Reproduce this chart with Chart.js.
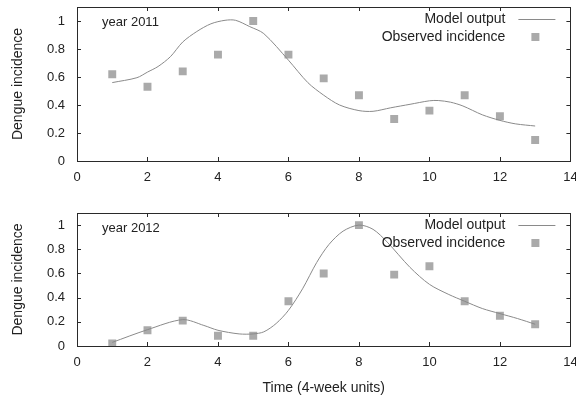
<!DOCTYPE html>
<html>
<head>
    <title>Dengue incidence</title>
    <style>
        body {
            margin: 0;
            background: #fff;
            overflow: hidden;
        }
        canvas {
            display: block;
        }
    </style>
    <script src="https://cdn.jsdelivr.net/npm/chart.js@4.4.1/dist/chart.umd.min.js"></script>
</head>
<body>
    <canvas id="chart2011" width="576" height="195"></canvas>
    <canvas id="chart2012" width="576" height="205"></canvas>

    <script>
        // observed incidence, one value per 4-week unit
        const weeks = [1, 2, 3, 4, 5, 6, 7, 8, 9, 10, 11, 12, 13];
        const obs2011 = [0.62, 0.53, 0.64, 0.76, 1.0, 0.76, 0.59, 0.47, 0.30, 0.36, 0.47, 0.32, 0.15];
        const obs2012 = [0.02, 0.13, 0.21, 0.085, 0.085, 0.37, 0.60, 1.0, 0.59, 0.66, 0.37, 0.25, 0.18];

        // model output
        const modelT2011 = [1, 1.7, 2, 2.3, 2.65, 3, 3.4, 3.8, 4.2, 4.5, 4.9, 5.3, 6, 6.55, 7, 7.45, 8, 8.4, 8.9, 9.45, 10, 10.25, 10.6, 10.95, 11.5, 12, 12.45, 13];
        const model2011 = [0.56, 0.595, 0.635, 0.675, 0.745, 0.85, 0.925, 0.98, 1.005, 1.005, 0.96, 0.91, 0.72, 0.56, 0.47, 0.40, 0.36, 0.355, 0.38, 0.405, 0.43, 0.432, 0.42, 0.393, 0.33, 0.29, 0.265, 0.25];
        const modelT2012 = [1, 2, 3, 3.6, 4, 4.6, 5, 5.3, 5.65, 6, 6.4, 6.8, 7.15, 7.55, 8, 8.4, 8.8, 9.45, 10, 10.55, 11, 11.5, 12, 12.5, 13];
        const model2012 = [0.03, 0.135, 0.218, 0.17, 0.13, 0.1, 0.1, 0.117, 0.186, 0.295, 0.473, 0.69, 0.84, 0.95, 1.0, 0.965, 0.86, 0.65, 0.51, 0.426, 0.37, 0.31, 0.268, 0.227, 0.18];

        const xTicks = [0, 2, 4, 6, 8, 10, 12, 14];
        const yTicks = [0, 0.2, 0.4, 0.6, 0.8, 1];

        const FONT = "'Liberation Sans', Arial, sans-serif";
        const TEXT = '#222';

        // gnuplot-like frame: box plus inward ticks on all four sides,
        // the year label and a legend inside the top right corner
        const framePlugin = {
            id: 'frame',
            afterDraw(chart, args, opts) {
                const ctx = chart.ctx;
                const a = chart.chartArea;
                const xs = chart.scales.x, ys = chart.scales.y;
                const tl = 4;
                ctx.save();
                ctx.strokeStyle = '#2a2a2a';
                ctx.lineWidth = 1;
                ctx.beginPath();
                xTicks.forEach(v => {
                    const px = Math.round(xs.getPixelForValue(v)) + 0.5;
                    ctx.moveTo(px, a.bottom); ctx.lineTo(px, a.bottom - tl);
                    ctx.moveTo(px, a.top); ctx.lineTo(px, a.top + tl);
                });
                yTicks.forEach(v => {
                    const py = Math.round(ys.getPixelForValue(v)) + 0.5;
                    ctx.moveTo(a.left, py); ctx.lineTo(a.left + tl, py);
                    ctx.moveTo(a.right, py); ctx.lineTo(a.right - tl, py);
                });
                ctx.stroke();
                ctx.strokeRect(Math.round(a.left) + 0.5, Math.round(a.top) + 0.5,
                    Math.round(a.right - a.left), Math.round(a.bottom - a.top));

                // year label
                ctx.fillStyle = TEXT;
                ctx.font = '13px ' + FONT;
                ctx.textBaseline = 'middle';
                ctx.textAlign = 'left';
                ctx.fillText(opts.year, a.left + 25, a.top + 15);

                // legend
                const ds = chart.data.datasets;
                ctx.font = '14px ' + FONT;
                ctx.textAlign = 'right';
                const tx = a.right - 65;
                ctx.fillText(ds[0].label, tx, a.top + 12);
                ctx.fillText(ds[1].label, tx, a.top + 30);
                ctx.strokeStyle = ds[0].borderColor;
                ctx.beginPath();
                ctx.moveTo(a.right - 52, a.top + 12.5);
                ctx.lineTo(a.right - 15, a.top + 12.5);
                ctx.stroke();
                ctx.fillStyle = ds[1].backgroundColor;
                ctx.fillRect(a.right - 39, a.top + 26, 8, 8);
                ctx.restore();
            }
        };

        function makeChart(id, year, modelT, model, obs, opts) {
            const modelPts = modelT.map((t, i) => ({ x: t, y: model[i] }));
            const obsPts = weeks.map((w, i) => ({ x: w, y: obs[i] }));
            return new Chart(document.getElementById(id), {
                type: 'scatter',
                data: {
                    datasets: [
                        {
                            label: 'Model output',
                            data: modelPts,
                            showLine: true,
                            borderColor: '#8a8a8a',
                            borderWidth: 1,
                            pointRadius: 0,
                            tension: 0.3
                        },
                        {
                            label: 'Observed incidence',
                            data: obsPts,
                            pointStyle: 'rect',
                            pointRadius: 5.6,
                            backgroundColor: '#aaaaaa',
                            borderWidth: 0
                        }
                    ]
                },
                options: {
                    responsive: false,
                    animation: false,
                    layout: { padding: { top: opts.top, right: 5, left: 0, bottom: 0 } },
                    plugins: {
                        legend: { display: false },
                        tooltip: { enabled: false },
                        frame: { year: year }
                    },
                    scales: {
                        x: {
                            type: 'linear',
                            min: 0,
                            max: 14,
                            grid: { display: false, drawTicks: false },
                            border: { display: false },
                            ticks: {
                                stepSize: 2,
                                padding: 9,
                                color: TEXT,
                                font: { family: FONT, size: 13 }
                            },
                            title: {
                                display: opts.xTitle,
                                text: 'Time (4-week units)',
                                color: TEXT,
                                font: { family: FONT, size: 14 },
                                padding: { top: 0, bottom: 3 }
                            },
                            afterFit(s) {
                                s.height = opts.xHeight;
                                s.paddingLeft = 0;
                                s.paddingRight = 0;
                            }
                        },
                        y: {
                            min: 0,
                            max: 1.1,
                            grid: { display: false, drawTicks: false },
                            border: { display: false },
                            afterBuildTicks(s) {
                                s.ticks = yTicks.map(v => ({ value: v }));
                            },
                            ticks: {
                                padding: 12,
                                color: TEXT,
                                font: { family: FONT, size: 13 },
                                callback: v => String(v)
                            },
                            title: {
                                display: true,
                                text: 'Dengue incidence',
                                color: TEXT,
                                font: { family: FONT, size: 14 },
                                padding: { top: 10, bottom: 0 }
                            },
                            afterFit(s) {
                                s.width = 77;
                                s.paddingTop = 0;
                                s.paddingBottom = 0;
                            }
                        }
                    }
                },
                plugins: [framePlugin]
            });
        }

        makeChart('chart2011', 'year 2011', modelT2011, model2011, obs2011,
            { top: 7, xHeight: 34, xTitle: false });
        makeChart('chart2012', 'year 2012', modelT2012, model2012, obs2012,
            { top: 18, xHeight: 54, xTitle: true });
    </script>
</body>
</html>
